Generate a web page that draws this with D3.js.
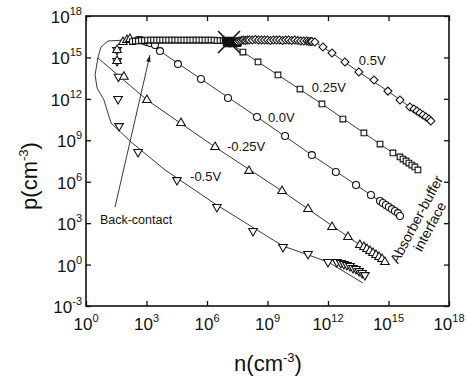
<!DOCTYPE html>
<html>
<head>
<meta charset="utf-8">
<script src="https://cdn.jsdelivr.net/npm/d3@7"></script>
<style>
  body { margin: 0; background: #fff; }
  text { font-family: "Liberation Sans", Arial, sans-serif; fill: #111; }
</style>
</head>
<body>
<svg id="chart" width="468" height="378"></svg>
<script>
// all values are log10 exponents: n (x) and p (y), in cm^-3

// 0.5V  (diamonds)
const n05 = [7.5, 7.6, 7.7, 7.8, 7.9, 8.0, 8.1, 8.25, 8.4, 8.55, 8.7, 8.85, 9.0, 9.15, 9.3, 9.45, 9.6, 9.75, 9.9, 10.05, 10.2, 10.35, 10.5, 10.65, 10.8, 10.95, 11.05, 11.15, 11.2,
  11.35, 11.75, 12.2, 12.84, 13.53, 14.28, 14.97, 15.57, 16.06, 16.26, 16.41, 16.56, 16.71, 16.86, 17.01, 17.1]
const p05 = [16.15, 16.19, 16.22, 16.26, 16.22, 16.26, 16.26, 16.26, 16.3, 16.26, 16.26, 16.26, 16.26, 16.22, 16.26, 16.26, 16.26, 16.22, 16.26, 16.26, 16.22, 16.26, 16.22, 16.19, 16.19, 16.19, 16.15, 16.15, 16.15,
  16.12, 15.75, 15.32, 14.67, 13.94, 13.36, 12.56, 11.92, 11.41, 11.27, 11.12, 10.98, 10.83, 10.69, 10.54, 10.4]

// 0.25V (squares)
const n025 = [2.3, 2.45, 2.6, 2.75, 2.9, 3.05, 3.2, 3.35, 3.5, 3.65, 3.8, 3.95, 4.1, 4.25, 4.4, 4.55, 4.7, 4.85, 5.0, 5.15, 5.3, 5.45, 5.6, 5.75, 5.9, 6.05, 6.2, 6.35, 6.5, 6.65, 6.8,
  7.78, 8.53, 9.52, 10.61, 11.7, 12.74, 13.78, 14.58, 15.22, 15.57, 15.72, 15.87, 16.01, 16.16, 16.31, 16.46]
const p025 = [16.15, 16.19, 16.19, 16.22, 16.22, 16.26, 16.26, 16.26, 16.26, 16.26, 16.26, 16.26, 16.26, 16.26, 16.26, 16.26, 16.26, 16.26, 16.26, 16.26, 16.26, 16.26, 16.26, 16.26, 16.26, 16.26, 16.26, 16.26, 16.22, 16.22, 16.22,
  15.39, 14.67, 13.73, 12.71, 11.63, 10.54, 9.53, 8.73, 8.08, 7.79, 7.64, 7.5, 7.35, 7.21, 7.07, 6.85]
// overlapping 0.25V points under the cross (solid black in the figure)
const n025Dense = [6.9, 6.95, 7.0, 7.05, 7.1, 7.15, 7.2, 7.25, 7.3, 7.35, 7.4, 7.45, 7.5, 7.55]
const p025Dense = [16.26, 16.05, 16.2, 15.98, 16.22, 16.02, 16.25, 15.98, 16.18, 16.05, 16.2, 16.0, 16.12, 16.02]

// 0.0V (circles)
const n00 = [2.58, 2.73, 2.88, 3.02, 3.17, 3.42, 3.67, 4.56, 5.7, 7.04, 8.48, 9.87, 11.2, 12.39, 13.39, 14.13,
  14.58, 14.72, 14.87, 15.02, 15.17, 15.32, 15.47, 15.57]
const p00 = [16.26, 16.26, 16.19, 16.12, 16.04, 15.9, 15.46, 14.52, 13.44, 12.06, 10.69, 9.31, 7.93, 6.7, 5.76, 5.04,
  4.6, 4.46, 4.31, 4.17, 4.02, 3.88, 3.73, 3.52]

// -0.25V (up triangles)
const nm025 = [1.54, 1.54, 1.83, 1.88, 2.03, 2.18, 3.02, 4.71, 6.4, 8.08, 9.72, 11.01, 12.2, 12.99, 13.58,
  13.78, 13.93, 14.08, 14.23, 14.38, 14.53, 14.68, 14.82]
const pm025 = [15.54, 14.74, 16.12, 13.6, 16.26, 16.33, 11.92, 10.25, 8.51, 6.78, 5.33, 4.02, 2.72, 2.0, 1.42,
  1.27, 1.13, 0.98, 0.84, 0.69, 0.55, 0.4, 0.19]

// -0.5V (down triangles)
const nm05 = [1.54, 1.54, 1.61, 1.59, 1.64, 2.58, 4.51, 6.49, 8.28, 9.77, 11.01, 12.0,
  12.44, 12.64, 12.79, 12.94, 13.09, 13.24, 13.39, 13.54, 13.69, 13.83]
const pm05 = [15.54, 14.74, 13.6, 11.99, 10.03, 8.15, 6.12, 4.17, 2.43, 1.27, 0.77, 0.19,
  0.19, 0.11, 0.04, -0.03, -0.1, -0.25, -0.32, -0.47, -0.61, -0.76]

// simulated curves (n, p exponents)
const line05 = [[7.0, 16.2], [11.2, 16.2], [11.35, 16.12], [12.2, 15.32], [13.53, 13.94], [14.97, 12.56], [16.06, 11.41], [17.1, 10.4]]
const line025 = [[2.3, 16.2], [7.05, 16.15], [7.78, 15.39], [9.52, 13.73], [11.7, 11.63], [13.78, 9.53], [15.22, 8.08], [16.46, 6.85]]
const line00 = [[2.6, 16.26], [3.02, 16.12], [3.67, 15.46], [5.7, 13.44], [8.48, 10.69], [11.2, 7.93], [14.13, 5.04], [15.57, 3.52]]
const linem025 = [[0.59, 14.96], [3.02, 11.92], [6.4, 8.51], [9.72, 5.33], [13.58, 1.42], [14.82, 0.19]]
const linem05 = [[1.98, 16.26], [1.09, 16.19], [0.74, 15.75], [0.59, 14.96], [0.45, 13.73], [0.55, 12.79], [0.89, 11.92],
  [1.24, 10.25], [2.23, 8.88], [3.92, 6.85], [6.49, 4.31], [9.77, 1.34], [12.0, 0.19], [13.73, -1.33]]

const xTickExp = [0, 3, 6, 9, 12, 15, 18]
const yTickExp = [-3, 0, 3, 6, 9, 12, 15, 18]

// labels: text, n exponent, p exponent (left end, baseline)
const curveLabels = [["0.5V", 13.53, 14.45], ["0.25V", 11.2, 12.5], ["0.0V", 9.02, 10.32], ["-0.25V", 6.99, 8.22], ["-0.5V", 5.16, 6.05]]
const crossMark = [7.09, 16.12]
const backContact = { text: "Back-contact", at: [0.69, 2.94], from: [1.44, 4.17], to: [3.17, 15.18] }
const interfaceLabel = { lines: ["Absorber-buffer", "interface"], at: [16.6, 3.1] }

const P = v => Math.pow(10, v)
const svg = d3.select('#chart')

const x = d3.scaleLog().domain([1, 1e18]).range([86, 449])
const y = d3.scaleLog().domain([1e-3, 1e18]).range([306, 16])

// frame + inward ticks on all sides
svg.append('g').attr('transform', 'translate(0,306)')
  .call(d3.axisBottom(x).tickValues(xTickExp.map(P)).tickSize(-5).tickSizeOuter(0).tickFormat(''))
svg.append('g').attr('transform', 'translate(0,16)')
  .call(d3.axisTop(x).tickValues(xTickExp.map(P)).tickSize(-5).tickSizeOuter(0).tickFormat(''))
svg.append('g').attr('transform', 'translate(86,0)')
  .call(d3.axisLeft(y).tickValues(yTickExp.map(P)).tickSize(-5).tickSizeOuter(0).tickFormat(''))
svg.append('g').attr('transform', 'translate(449,0)')
  .call(d3.axisRight(y).tickValues(yTickExp.map(P)).tickSize(-5).tickSizeOuter(0).tickFormat(''))
svg.selectAll('.domain').remove()
svg.selectAll('.tick line').attr('stroke', '#111').attr('stroke-width', 1.3)
svg.append('rect').attr('x', 86).attr('y', 16).attr('width', 363).attr('height', 290)
  .attr('fill', 'none').attr('stroke', '#111').attr('stroke-width', 1.6)

// tick labels 10^k
xTickExp.forEach(e => {
  const t = svg.append('text').attr('x', x(P(e))).attr('y', 330)
    .attr('text-anchor', 'middle').attr('font-size', 17)
  t.append('tspan').text('10')
  t.append('tspan').attr('dy', -8).attr('font-size', 11).text(e)
})
yTickExp.forEach(e => {
  const t = svg.append('text').attr('x', 82).attr('y', y(P(e)) + 7)
    .attr('text-anchor', 'end').attr('font-size', 17)
  t.append('tspan').text('10')
  t.append('tspan').attr('dy', -8).attr('font-size', 11).text(e)
})

// axis titles
const xt = svg.append('text').attr('x', 268).attr('y', 371).attr('text-anchor', 'middle').attr('font-size', 22)
xt.append('tspan').text('n(cm')
xt.append('tspan').attr('dy', -9).attr('font-size', 13).text('-3')
xt.append('tspan').attr('dy', 9).text(')')

const yt = svg.append('text').attr('transform', 'translate(37,176) rotate(-90)').attr('text-anchor', 'middle').attr('font-size', 22)
yt.append('tspan').text('p(cm')
yt.append('tspan').attr('dy', -9).attr('font-size', 13).text('-3')
yt.append('tspan').attr('dy', 9).text(')')

// curves
const line = d3.line().x(d => x(P(d[0]))).y(d => y(P(d[1])))
const plot = svg.append('g')
;[line05, line025, line00, linem025, linem05].forEach(l => {
  plot.append('path').attr('d', line(l)).attr('fill', 'none').attr('stroke', '#222').attr('stroke-width', 0.9)
})

// markers
const series = [
  { n: nm05, p: pm05, type: d3.symbolTriangle, size: 32, rot: 180, fill: '#fff' },
  { n: nm025, p: pm025, type: d3.symbolTriangle, size: 32, rot: 0, fill: '#fff' },
  { n: n00, p: p00, type: d3.symbolCircle, size: 38, rot: 0, fill: '#fff' },
  { n: n025, p: p025, type: d3.symbolSquare, size: 32, rot: 0, fill: '#fff' },
  { n: n025Dense, p: p025Dense, type: d3.symbolSquare, size: 32, rot: 0, fill: '#111' },
  { n: n05, p: p05, type: d3.symbolSquare, size: 32, rot: 45, fill: '#fff' }
]
series.forEach(s => {
  const sym = d3.symbol().type(s.type).size(s.size)
  plot.selectAll(null).data(s.n.map((v, i) => [v, s.p[i]])).enter()
    .append('path')
    .attr('d', sym)
    .attr('transform', d => 'translate(' + x(P(d[0])) + ',' + y(P(d[1])) + ') rotate(' + s.rot + ')')
    .attr('fill', s.fill).attr('stroke', '#111').attr('stroke-width', 1.1)
})

// big cross where the curves merge
const cx = x(P(crossMark[0])), cy = y(P(crossMark[1]))
plot.append('path').attr('d', 'M' + (cx - 11) + ',' + (cy - 11) + 'L' + (cx + 11) + ',' + (cy + 11) + 'M' + (cx + 11) + ',' + (cy - 11) + 'L' + (cx - 11) + ',' + (cy + 11))
  .attr('stroke', '#111').attr('stroke-width', 1.6)

// curve labels
curveLabels.forEach(l => {
  svg.append('text').attr('x', x(P(l[1]))).attr('y', y(P(l[2]))).attr('font-size', 13).text(l[0])
})

// back-contact arrow
const x1 = x(P(backContact.from[0])), y1 = y(P(backContact.from[1]))
const x2 = x(P(backContact.to[0])), y2 = y(P(backContact.to[1]))
svg.append('line').attr('x1', x1).attr('y1', y1).attr('x2', x2).attr('y2', y2).attr('stroke', '#222').attr('stroke-width', 0.9)
const ang = Math.atan2(y2 - y1, x2 - x1) * 180 / Math.PI
svg.append('path').attr('d', 'M0,0L-7,-2.2L-7,2.2Z')
  .attr('transform', 'translate(' + x2 + ',' + y2 + ') rotate(' + ang + ')').attr('fill', '#222')
svg.append('text').attr('x', x(P(backContact.at[0]))).attr('y', y(P(backContact.at[1])))
  .attr('font-size', 12.5).text(backContact.text)

// absorber-buffer interface label
const ig = svg.append('g').attr('transform', 'translate(' + x(P(interfaceLabel.at[0])) + ',' + y(P(interfaceLabel.at[1])) + ') rotate(-62)')
interfaceLabel.lines.forEach((s, i) => {
  ig.append('text').attr('y', i * 15).attr('text-anchor', 'middle').attr('font-size', 14).text(s)
})
</script>
</body>
</html>
